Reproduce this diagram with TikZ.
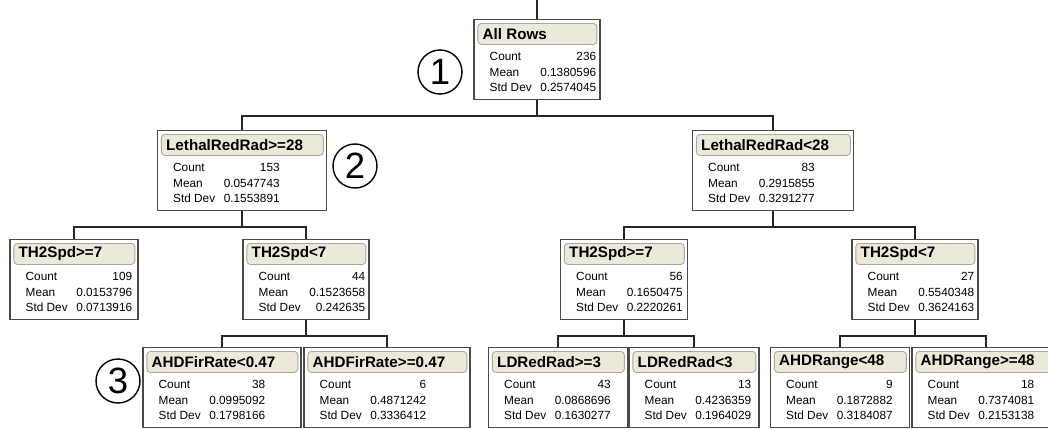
\documentclass[tikz,border=0pt]{standalone}
\usepackage{fontspec}
\setmainfont{Liberation Sans}
\usetikzlibrary{calc}
\definecolor{barfill}{HTML}{ECE9DA}
\definecolor{barline}{HTML}{A9A79C}
\definecolor{boxline}{HTML}{4A4A4A}
\newcommand{\pxu}{0.025cm}
% one partition box: name, centre x, top y, width, title, count, mean, std dev
\newcommand{\splitbox}[8]{%
  \node[outerbox, minimum width=#4*\pxu, anchor=north] (#1) at (#2,#3) {};
  \node[titlebar, minimum width=(#4-7)*\pxu, anchor=north west] (#1-bar) at ($(#1.north west)+(4,4)$) {};
  \node[titletext, anchor=west] (#1-title) at ($(#1-bar.west)+(5,0)$) {#5};
  \foreach \lab/\val [count=\i] in {Count/#6, Mean/#7, Std Dev/#8}{
    \node[stat, anchor=west] (#1-l\i) at ($(#1.north west)+(16,22+15.5*\i)$) {\lab};
    \node[stat, anchor=east] (#1-v\i) at ($(#1.north west)+(123,22+15.5*\i)$) {\val};
  }
}
\begin{document}
\begin{tikzpicture}[x=0.025cm,y=-0.025cm]
	\tikzset{outerbox/.style = {draw=boxline, line width=0.8pt, fill=white, minimum height=80*\pxu, inner sep=0pt}}
	\tikzset{titlebar/.style = {draw=barline, fill=barfill, rounded corners=2.5pt, line width=0.6pt, minimum height=21*\pxu, inner sep=0pt}}
	\tikzset{titletext/.style = {font=\fontsize{10.8}{12}\selectfont\bfseries, inner sep=0pt}}
	\tikzset{stat/.style = {font=\fontsize{8.4}{10}\selectfont, inner sep=0pt}}
	\tikzset{link/.style = {draw=black!85, line width=0.9pt}}
	\tikzset{marker/.style = {shape=circle, draw, line width=1pt, minimum size=44*\pxu, inner sep=0pt, font=\fontsize{26}{26}\selectfont}}
	\useasboundingbox (0,0) rectangle (1048,429);
	\coordinate (top) at (537,0);
	\splitbox{root}{537}{19}{126}{All Rows}{236}{0.1380596}{0.2574045}
	\splitbox{lrA}{242}{130}{169}{LethalRedRad>=28}{153}{0.0547743}{0.1553891}
	\splitbox{lrB}{773}{130}{161}{LethalRedRad<28}{83}{0.2915855}{0.3291277}
	\splitbox{thA}{74}{239}{128}{TH2Spd>=7}{109}{0.0153796}{0.0713916}
	\splitbox{thB}{306}{239}{126}{TH2Spd<7}{44}{0.1523658}{0.242635}
	\splitbox{thC}{624}{239}{127}{TH2Spd>=7}{56}{0.1650475}{0.2220261}
	\splitbox{thD}{915}{239}{126}{TH2Spd<7}{27}{0.5540348}{0.3624163}
	\splitbox{firA}{222}{347}{158}{AHDFirRate<0.47}{38}{0.0995092}{0.1798166}
	\splitbox{firB}{387}{347}{166}{AHDFirRate>=0.47}{6}{0.4871242}{0.3336412}
	\splitbox{ldA}{558}{347}{139}{LDRedRad>=3}{43}{0.0868696}{0.1630277}
	\splitbox{ldB}{694}{347}{130}{LDRedRad<3}{13}{0.4236359}{0.1964029}
	\splitbox{rgA}{840}{347}{139}{AHDRange<48}{9}{0.1872882}{0.3184087}
	\splitbox{rgB}{986}{347}{148}{AHDRange>=48}{18}{0.7374081}{0.2153138}
	\draw[link] (top) -- (root.north);
	\draw[link] (root.south) -- ++(0,16) -| (lrA.north);
	\draw[link] (root.south) -- ++(0,16) -| (lrB.north);
	\draw[link] (lrA.south) -- ++(0,16) -| (thA.north);
	\draw[link] (lrA.south) -- ++(0,16) -| (thB.north);
	\draw[link] (lrB.south) -- ++(0,16) -| (thC.north);
	\draw[link] (lrB.south) -- ++(0,16) -| (thD.north);
	\draw[link] (thB.south) -- ++(0,16) -| (firA.north);
	\draw[link] (thB.south) -- ++(0,16) -| (firB.north);
	\draw[link] (thC.south) -- ++(0,16) -| (ldA.north);
	\draw[link] (thC.south) -- ++(0,16) -| (ldB.north);
	\draw[link] (thD.south) -- ++(0,16) -| (rgA.north);
	\draw[link] (thD.south) -- ++(0,16) -| (rgB.north);
	\node[marker] (one) at (440,72) {1};
	\node[marker] (two) at (355,166) {2};
	\node[marker] (three) at (118,381) {3};
\end{tikzpicture}
\end{document}
